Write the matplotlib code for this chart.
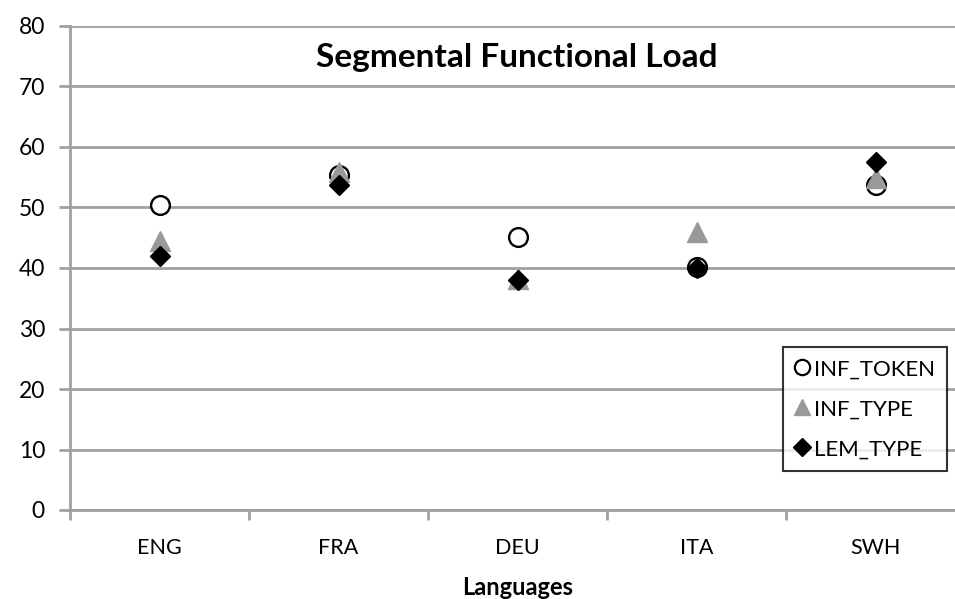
import matplotlib

matplotlib.use("Agg")

import matplotlib.pyplot as plt
from matplotlib.lines import Line2D

# --- data: functional load per language, three counting schemes ---
LANGUAGES = ["ENG", "FRA", "DEU", "ITA", "SWH"]
INF_TOKEN = [50.4, 55.4, 45.1, 40.2, 53.7]
INF_TYPE = [44.5, 55.9, 38.1, 46.0, 54.9]
LEM_TYPE = [42.0, 53.7, 38.0, 40.0, 57.5]
Y_TICKS = [0, 10, 20, 30, 40, 50, 60, 70, 80]

GRID_GREY = "#a0a0a0"
TRI_GREY = "#999999"

plt.rcParams["font.family"] = ["Lato", "DejaVu Sans"]

fig = plt.figure(figsize=(9.55, 5.99), dpi=100)
ax = fig.add_axes([70 / 955, 89 / 599, 895 / 955, 484 / 599])

x = list(range(len(LANGUAGES)))
ax.plot(x, INF_TOKEN, linestyle="none", marker="o", markersize=13.5,
        markerfacecolor="white", markeredgecolor="black", markeredgewidth=1.7,
        zorder=3, clip_on=False)
ax.plot(x, INF_TYPE, linestyle="none", marker="^", markersize=14,
        markerfacecolor=TRI_GREY, markeredgecolor=TRI_GREY, zorder=4, clip_on=False)
ax.plot(x, LEM_TYPE, linestyle="none", marker="D", markersize=10.5,
        markerfacecolor="black", markeredgecolor="black", zorder=5, clip_on=False)

ax.set_xlim(-0.5, len(LANGUAGES) - 0.5)
ax.set_ylim(0, 80)
ax.set_yticks(Y_TICKS)
ax.set_yticklabels([str(v) for v in Y_TICKS], fontsize=16.5)
ax.yaxis.grid(True, color=GRID_GREY, linewidth=2)
ax.set_axisbelow(True)

# category labels centred, ticks on the boundaries
ax.set_xticks(x)
ax.set_xticklabels(LANGUAGES, fontsize=15.5)
ax.tick_params(axis="x", which="major", length=0, pad=20)
ax.set_xticks([i - 0.5 for i in range(len(LANGUAGES) + 1)], minor=True)
ax.tick_params(axis="x", which="minor", length=7, width=2, color=GRID_GREY)
ax.tick_params(axis="y", length=8, width=2, color=GRID_GREY, pad=10)

for side in ["top", "right"]:
    ax.spines[side].set_visible(False)
for side in ["left", "bottom"]:
    ax.spines[side].set_color(GRID_GREY)
    ax.spines[side].set_linewidth(2)

ax.set_xlabel("Languages", fontsize=17, fontweight="bold", labelpad=13)
fig.text(517 / 955, 1 - 57 / 599, "Segmental Functional Load", ha="center",
         va="center", fontsize=24, fontweight="bold")

handles = [
    Line2D([], [], linestyle="none", marker="o", markersize=11,
           markerfacecolor="white", markeredgecolor="black", markeredgewidth=1.6,
           label="INF_TOKEN"),
    Line2D([], [], linestyle="none", marker="^", markersize=12,
           markerfacecolor=TRI_GREY, markeredgecolor=TRI_GREY, label="INF_TYPE"),
    Line2D([], [], linestyle="none", marker="D", markersize=9,
           markerfacecolor="black", markeredgecolor="black", label="LEM_TYPE"),
]
leg = fig.legend(handles=handles, loc="upper left",
                 bbox_to_anchor=(783 / 955, 1 - 347 / 599), fontsize=16,
                 frameon=True, fancybox=False, handlelength=0.6,
                 handletextpad=0.25, borderpad=0.55, labelspacing=0.9,
                 borderaxespad=0)
leg.get_frame().set_edgecolor("black")
leg.get_frame().set_linewidth(1.5)

fig.savefig("out.png", dpi=100, facecolor="white")
